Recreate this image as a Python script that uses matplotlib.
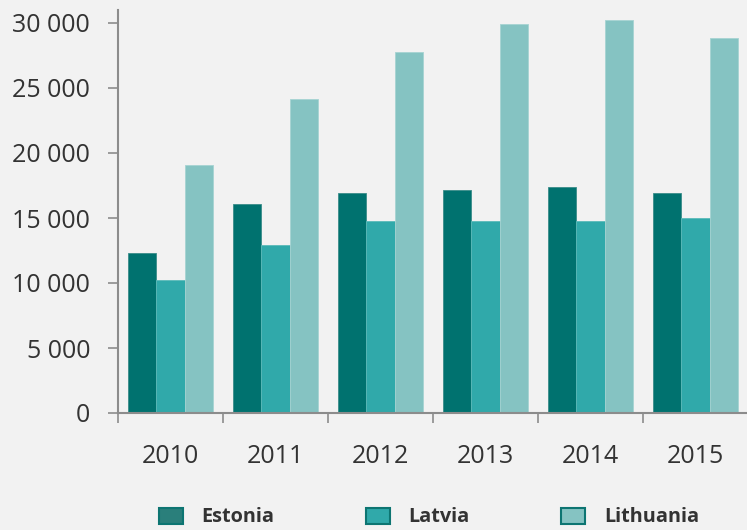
import matplotlib.pyplot as plt
import numpy as np
from matplotlib.patches import Patch
from matplotlib.ticker import FuncFormatter

plt.rcParams['font.family'] = ['Open Sans', 'DejaVu Sans']

# Dados
anos = ['2010', '2011', '2012', '2013', '2014', '2015']
paises = ['Estonia', 'Latvia', 'Lithuania']
estonia = [12300, 16100, 16950, 17150, 17400, 16900]
latvia = [10250, 12900, 14750, 14800, 14800, 15000]
lithuania = [19100, 24150, 27800, 29900, 30200, 28850]
cores = ['#00726f', '#30a9aa', '#85c3c2']
bordas = ['#3a8c89', '#5bbab9', '#a6d3d2']

fundo = '#f2f2f2'
cinza = '#8c8c8c'
texto = '#333333'

fig = plt.figure(figsize=(7.47, 5.30), dpi=100, facecolor=fundo)
ax = fig.add_axes([118 / 747, 117 / 530, 630 / 747, 403 / 530], facecolor=fundo)

x = np.arange(len(anos))
largura = 0.267
for i, (serie, cor, borda) in enumerate(zip([estonia, latvia, lithuania], cores, bordas)):
    ax.bar(x + (i - 1) * largura, serie, width=largura, color=cor,
           edgecolor=borda, linewidth=0.6)

ax.set_xlim(-0.5, len(anos) - 0.5)
ax.set_ylim(0, 31000)

# Eixo Y
ax.set_yticks(np.arange(0, 30001, 5000))
ax.yaxis.set_major_formatter(FuncFormatter(lambda v, p: f'{int(v):,}'.replace(',', ' ')))
ax.tick_params(axis='y', length=7, width=1.2, color=cinza, pad=13,
               labelsize=18, labelcolor=texto)

# Eixo X: rótulos no centro, marcas entre categorias
ax.set_xticks(x)
ax.set_xticklabels(anos)
ax.set_xticks(np.arange(-0.5, len(anos)), minor=True)
ax.tick_params(axis='x', which='major', length=0, pad=22, labelsize=18, labelcolor=texto)
ax.tick_params(axis='x', which='minor', length=7, width=1.2, color=cinza)

for lado in ['top', 'right']:
    ax.spines[lado].set_visible(False)
for lado in ['left', 'bottom']:
    ax.spines[lado].set_color(cinza)
    ax.spines[lado].set_linewidth(1.5)

# Legenda
alcas = [Patch(facecolor=c, edgecolor='#0d7572', linewidth=1.5, label=p)
         for c, p in zip(['#2a7f7b', cores[1], cores[2]], paises)]
fig.legend(handles=alcas, loc='center', bbox_to_anchor=(429 / 747, 12.5 / 530), ncol=3,
           frameon=False, prop={'weight': 'bold', 'size': 14.3}, labelcolor=texto,
           handlelength=1.2, handleheight=0.85, handletextpad=0.95, columnspacing=4.6)

plt.savefig('out.png', dpi=100, facecolor=fundo)
